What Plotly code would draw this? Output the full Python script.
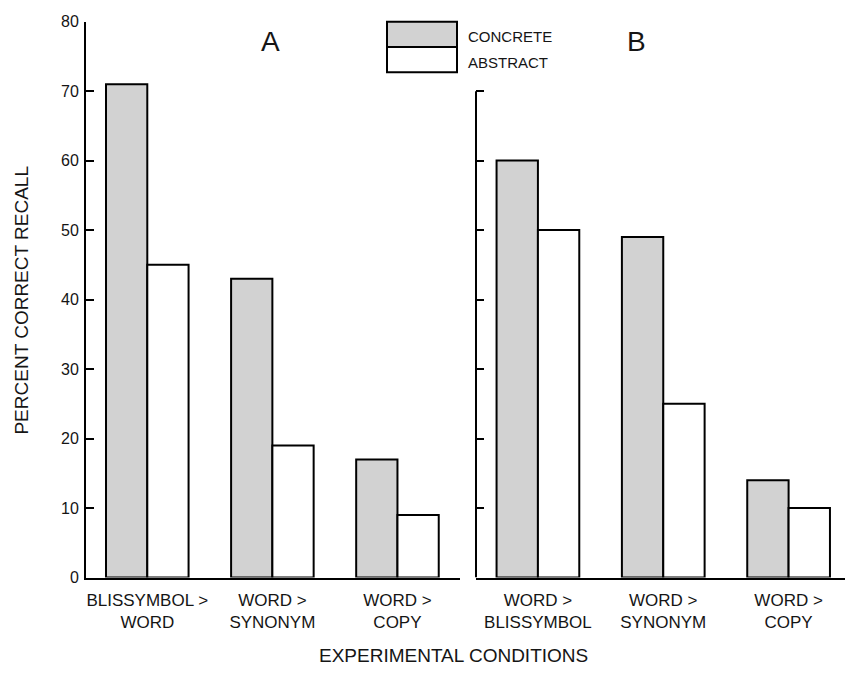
import plotly.graph_objects as go

# Recall data (percent correct) for the two experiments
conditions_a = ["BLISSYMBOL ><br>WORD", "WORD ><br>SYNONYM", "WORD ><br>COPY"]
concrete_a = [71, 43, 17]
abstract_a = [45, 19, 9]

conditions_b = ["WORD ><br>BLISSYMBOL", "WORD ><br>SYNONYM", "WORD ><br>COPY"]
concrete_b = [60, 49, 14]
abstract_b = [50, 25, 10]

y_ticks_a = [0, 10, 20, 30, 40, 50, 60, 70, 80]
y_ticks_b = [10, 20, 30, 40, 50, 60, 70]

W, H = 847, 685
FONT = "Liberation Sans, Arial, Helvetica, sans-serif"
INK = "#151515"
GREY = "#d2d2d2"
BAR_W = 0.33

def px_x(p):
    return p / W

def px_y(p):
    return 1 - p / H

fig = go.Figure()

positions = [0, 1, 2]
for xa, ya, conc, abst in [("x", "y", concrete_a, abstract_a),
                            ("x2", "y2", concrete_b, abstract_b)]:
    fig.add_trace(go.Bar(
        x=positions, y=conc, xaxis=xa, yaxis=ya,
        offset=-BAR_W, width=BAR_W,
        marker=dict(color=GREY, line=dict(color="black", width=2)),
        name="CONCRETE", showlegend=False))
    fig.add_trace(go.Bar(
        x=positions, y=abst, xaxis=xa, yaxis=ya,
        offset=0, width=BAR_W,
        marker=dict(color="white", line=dict(color="black", width=2)),
        name="ABSTRACT", showlegend=False))

y_dom = [px_y(584), px_y(14)]
common_x = dict(showgrid=False, zeroline=False, showline=True,
                linecolor="black", linewidth=2, ticks="",
                ticklabelstandoff=6,
                tickfont=dict(family=FONT, size=17, color=INK))

fig.update_layout(
    width=W, height=H, barmode="overlay",
    margin=dict(l=0, r=0, t=0, b=0),
    paper_bgcolor="white", plot_bgcolor="rgba(0,0,0,0)",
    xaxis=dict(domain=[px_x(86), px_x(460)], range=[-0.49, 2.50],
               tickvals=positions, ticktext=conditions_a, anchor="y",
               **common_x),
    xaxis2=dict(domain=[px_x(476), px_x(845)], range=[-0.494, 2.45],
                tickvals=positions, ticktext=conditions_b, anchor="y2",
                **common_x),
    yaxis=dict(domain=y_dom, range=[0, 80], tickvals=y_ticks_a,
               ticks="inside", ticklen=8, tickwidth=2, tickcolor="black",
               showline=True, linecolor="black", linewidth=2,
               showgrid=False, zeroline=False, anchor="x",
               ticklabelstandoff=2,
               tickfont=dict(family=FONT, size=16, color=INK)),
    yaxis2=dict(domain=y_dom, range=[0, 80], tickvals=y_ticks_b,
                ticks="inside", ticklen=8, tickwidth=2, tickcolor="black",
                showticklabels=False, showline=False,
                showgrid=False, zeroline=False, anchor="x2"),
)

# Shortened axis line for panel B (runs to its top tick only)
fig.add_shape(type="line", xref="x2 domain", yref="y2",
              x0=0, x1=0, y0=0, y1=max(y_ticks_b),
              line=dict(color="black", width=2))

# Legend boxes
lx0, lx1 = px_x(387), px_x(457)
fig.add_shape(type="rect", xref="paper", yref="paper",
              x0=lx0, x1=lx1, y0=px_y(40), y1=px_y(14),
              fillcolor=GREY, line=dict(color="black", width=2))
fig.add_shape(type="rect", xref="paper", yref="paper",
              x0=lx0, x1=lx1, y0=px_y(66), y1=px_y(40),
              fillcolor="white", line=dict(color="black", width=2))

annotations = [
    dict(text="CONCRETE", x=px_x(466), y=px_y(29), xanchor="left",
         yanchor="middle", font=dict(family=FONT, size=15, color=INK)),
    dict(text="ABSTRACT", x=px_x(466), y=px_y(56), xanchor="left",
         yanchor="middle", font=dict(family=FONT, size=15, color=INK)),
    dict(text="A", x=px_x(270), y=px_y(34), xanchor="center",
         yanchor="middle", font=dict(family=FONT, size=28, color=INK)),
    dict(text="B", x=px_x(636), y=px_y(34), xanchor="center",
         yanchor="middle", font=dict(family=FONT, size=28, color=INK)),
    dict(text="EXPERIMENTAL CONDITIONS", x=px_x(453), y=px_y(664),
         xanchor="center", yanchor="middle",
         font=dict(family=FONT, size=19, color=INK)),
    dict(text="PERCENT CORRECT RECALL", x=px_x(22), y=px_y(300),
         xanchor="center", yanchor="middle", textangle=-90,
         font=dict(family=FONT, size=19, color=INK)),
]
for a in annotations:
    a.update(xref="paper", yref="paper", showarrow=False)
fig.update_layout(annotations=annotations)

fig.write_html("out.html")
